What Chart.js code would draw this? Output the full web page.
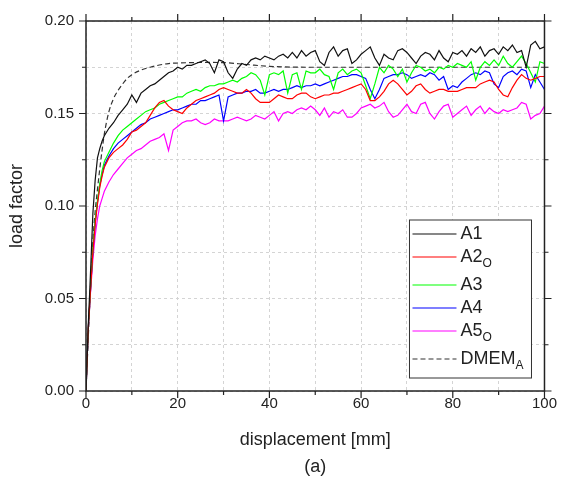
<!DOCTYPE html>
<html>
<head>
<meta charset="utf-8">
<script src="https://cdn.jsdelivr.net/npm/chart.js@4.4.1/dist/chart.umd.min.js"></script>
<style>
  body { margin: 0; background: #fff; }
</style>
</head>
<body>
<canvas id="myChart" width="561" height="486"></canvas>
<script>
// displacement [mm], shared by the five test curves
const disp = [0, 0.5, 1, 1.5, 2, 2.5, 3, 3.5, 4,
  5, 6, 7, 8, 9, 10, 11, 12, 13, 14,
  15, 16, 17, 18, 19, 20, 21, 22, 23, 24,
  25, 26, 27, 28, 29, 30, 31, 32, 33, 34,
  35, 36, 37, 38, 39, 40, 41, 42, 43, 44,
  45, 46, 47, 48, 49, 50, 51, 52, 53, 54,
  55, 56, 57, 58, 59, 60, 61, 62, 63, 64,
  65, 66, 67, 68, 69, 70, 71, 72, 73, 74,
  75, 76, 77, 78, 79, 80, 81, 82, 83, 84,
  85, 86, 87, 88, 89, 90, 91, 92, 93, 94,
  95, 96, 97, 98, 99, 100];

const a1 = [0, 0.036, 0.065, 0.096, 0.114, 0.126, 0.131, 0.135, 0.138,
  0.142, 0.145, 0.149, 0.152, 0.155, 0.160, 0.156, 0.161, 0.163, 0.165,
  0.166, 0.168, 0.170, 0.172, 0.173, 0.175, 0.174, 0.176, 0.176, 0.177,
  0.178, 0.179, 0.177, 0.172, 0.179, 0.178, 0.172, 0.169, 0.174, 0.177,
  0.176, 0.179, 0.180, 0.179, 0.181, 0.180, 0.179, 0.181, 0.182, 0.180,
  0.183, 0.180, 0.184, 0.181, 0.183, 0.184, 0.178, 0.176, 0.183, 0.186,
  0.181, 0.184, 0.185, 0.177, 0.179, 0.182, 0.184, 0.186, 0.180, 0.176,
  0.182, 0.180, 0.179, 0.184, 0.185, 0.183, 0.180, 0.177, 0.181, 0.183,
  0.182, 0.179, 0.184, 0.180, 0.178, 0.183, 0.182, 0.184, 0.181, 0.185,
  0.183, 0.186, 0.181, 0.184, 0.185, 0.182, 0.186, 0.184, 0.187, 0.183,
  0.184, 0.175, 0.187, 0.189, 0.185, 0.186];

const a2 = [0, 0.034, 0.055, 0.075, 0.090, 0.101, 0.110, 0.116, 0.121,
  0.126, 0.129, 0.131, 0.133, 0.136, 0.140, 0.141, 0.143, 0.145, 0.149,
  0.153, 0.156, 0.157, 0.154, 0.152, 0.151, 0.150, 0.153, 0.155, 0.157,
  0.158, 0.159, 0.160, 0.161, 0.163, 0.164, 0.163, 0.162, 0.161, 0.161,
  0.163, 0.161, 0.158, 0.156, 0.156, 0.156, 0.158, 0.160, 0.159, 0.158,
  0.158, 0.160, 0.161, 0.161, 0.159, 0.158, 0.159, 0.160, 0.160, 0.161,
  0.161, 0.162, 0.163, 0.164, 0.165, 0.166, 0.163, 0.157, 0.157, 0.159,
  0.162, 0.166, 0.168, 0.166, 0.163, 0.160, 0.162, 0.165, 0.166, 0.163,
  0.161, 0.162, 0.163, 0.163, 0.162, 0.162, 0.162, 0.163, 0.164, 0.164,
  0.164, 0.166, 0.167, 0.168, 0.167, 0.163, 0.160, 0.159, 0.164, 0.168,
  0.171, 0.169, 0.168, 0.169, 0.170, 0.170];

const a3 = [0, 0.034, 0.056, 0.077, 0.092, 0.103, 0.112, 0.119, 0.124,
  0.129, 0.134, 0.138, 0.141, 0.143, 0.145, 0.147, 0.149, 0.151, 0.152,
  0.153, 0.155, 0.156, 0.157, 0.158, 0.159, 0.159, 0.161, 0.162, 0.163,
  0.162, 0.164, 0.165, 0.165, 0.166, 0.166, 0.167, 0.168, 0.167, 0.169,
  0.170, 0.172, 0.171, 0.168, 0.160, 0.171, 0.172, 0.171, 0.173, 0.161,
  0.171, 0.172, 0.163, 0.173, 0.172, 0.172, 0.174, 0.171, 0.170, 0.163,
  0.172, 0.174, 0.171, 0.173, 0.174, 0.172, 0.165, 0.158, 0.166, 0.175,
  0.172, 0.176, 0.174, 0.170, 0.174, 0.167, 0.172, 0.176, 0.175, 0.173,
  0.174, 0.172, 0.175, 0.174, 0.176, 0.175, 0.177, 0.176, 0.175, 0.178,
  0.168, 0.175, 0.178, 0.176, 0.179, 0.176, 0.181, 0.177, 0.175, 0.178,
  0.181, 0.177, 0.172, 0.167, 0.178, 0.177];

const a4 = [0, 0.034, 0.055, 0.076, 0.091, 0.102, 0.111, 0.117, 0.122,
  0.127, 0.131, 0.134, 0.136, 0.138, 0.140, 0.142, 0.144, 0.145, 0.147,
  0.148, 0.149, 0.150, 0.151, 0.152, 0.152, 0.153, 0.154, 0.155, 0.155,
  0.157, 0.157, 0.158, 0.159, 0.160, 0.146, 0.159, 0.160, 0.161, 0.161,
  0.162, 0.162, 0.163, 0.161, 0.161, 0.162, 0.163, 0.162, 0.163, 0.163,
  0.164, 0.165, 0.164, 0.165, 0.165, 0.166, 0.165, 0.166, 0.167, 0.168,
  0.169, 0.170, 0.170, 0.171, 0.171, 0.170, 0.169, 0.163, 0.158, 0.163,
  0.169, 0.170, 0.171, 0.171, 0.172, 0.171, 0.169, 0.170, 0.171, 0.170,
  0.172, 0.171, 0.168, 0.170, 0.163, 0.165, 0.164, 0.167, 0.169, 0.171,
  0.172, 0.171, 0.173, 0.172, 0.166, 0.164, 0.170, 0.172, 0.173, 0.171,
  0.174, 0.173, 0.164, 0.171, 0.167, 0.163];

const a5 = [0, 0.034, 0.054, 0.071, 0.084, 0.093, 0.100, 0.104, 0.108,
  0.113, 0.117, 0.120, 0.123, 0.126, 0.128, 0.130, 0.131, 0.133, 0.135,
  0.136, 0.137, 0.139, 0.130, 0.141, 0.143, 0.145, 0.146, 0.146, 0.147,
  0.145, 0.144, 0.145, 0.147, 0.146, 0.146, 0.146, 0.147, 0.148, 0.147,
  0.146, 0.147, 0.149, 0.148, 0.147, 0.149, 0.151, 0.146, 0.150, 0.151,
  0.150, 0.152, 0.153, 0.152, 0.154, 0.152, 0.149, 0.153, 0.148, 0.151,
  0.150, 0.152, 0.148, 0.148, 0.150, 0.153, 0.154, 0.155, 0.153, 0.154,
  0.156, 0.151, 0.148, 0.149, 0.152, 0.155, 0.151, 0.150, 0.155, 0.156,
  0.150, 0.147, 0.151, 0.154, 0.155, 0.148, 0.150, 0.152, 0.154, 0.149,
  0.152, 0.154, 0.150, 0.153, 0.151, 0.150, 0.152, 0.151, 0.152, 0.153,
  0.156, 0.155, 0.147, 0.149, 0.150, 0.154];

// smooth model curve
const dmemX = [0, 0.5, 1, 1.5, 2, 2.5, 3, 3.5, 4, 5, 6, 7, 8, 9, 10, 12, 14, 16, 18, 20,
  23, 26, 30, 35, 40, 50, 60, 70, 80, 90, 100];
const dmemY = [0, 0.029, 0.057, 0.081, 0.097, 0.109, 0.120, 0.130, 0.139, 0.151, 0.158,
  0.1625, 0.166, 0.169, 0.171, 0.1735, 0.175, 0.1762, 0.177, 0.1773,
  0.1775, 0.1776, 0.1775, 0.1765, 0.1755, 0.175, 0.175, 0.175, 0.175, 0.175, 0.175];

const names = ['A1', 'A2', 'A3', 'A4', 'A5', 'DMEM'];
const subs = ['', 'O', '', '', 'O', 'A'];
const colors = ['#111111', '#ff0000', '#00ff00', '#0000ff', '#ff00ff', '#333333'];

function pts(xs, ys) {
  return xs.map((x, i) => ({ x: x, y: ys[i] }));
}

const series = [a1, a2, a3, a4, a5];
const datasets = series.map((s, i) => ({
  label: names[i] + subs[i],
  data: pts(disp, s),
  borderColor: colors[i],
  borderWidth: 1.2,
  pointRadius: 0,
  tension: 0,
  fill: false
}));
datasets.push({
  label: 'DMEMA',
  data: pts(dmemX, dmemY),
  borderColor: colors[5],
  borderWidth: 1.2,
  borderDash: [5, 3],
  pointRadius: 0,
  cubicInterpolationMode: 'monotone',
  fill: false
});

// frame, mirrored ticks and legend with subscripts
const framePlugin = {
  id: 'frame',
  afterDatasetsDraw(chart) {
    const { ctx, chartArea: a, scales: { x, y } } = chart;
    ctx.save();
    ctx.strokeStyle = '#222';
    ctx.lineWidth = 1.5;
    ctx.strokeRect(a.left, a.top, a.right - a.left, a.bottom - a.top);

    ctx.lineWidth = 1.2;
    ctx.beginPath();
    for (let v = 0; v <= 100; v += 10) {
      const px = x.getPixelForValue(v);
      const len = v % 20 === 0 ? 7 : 4;
      ctx.moveTo(px, a.bottom); ctx.lineTo(px, a.bottom + len);
      ctx.moveTo(px, a.top); ctx.lineTo(px, a.top - len);
    }
    for (let k = 0; k <= 8; k++) {
      const py = y.getPixelForValue(k * 0.025);
      const len = k % 2 === 0 ? 7 : 4;
      ctx.moveTo(a.left, py); ctx.lineTo(a.left - len, py);
      ctx.moveTo(a.right, py); ctx.lineTo(a.right + len, py);
    }
    ctx.stroke();

    // legend box
    const bx = a.right - 135, by = a.top + 199, bw = 122, bh = 158;
    ctx.fillStyle = '#fff';
    ctx.fillRect(bx, by, bw, bh);
    ctx.lineWidth = 1;
    ctx.strokeStyle = '#333';
    ctx.strokeRect(bx, by, bw, bh);

    let ry = by + 14;
    for (let i = 0; i < names.length; i++) {
      ctx.beginPath();
      ctx.strokeStyle = colors[i];
      ctx.lineWidth = 1.2;
      ctx.setLineDash(i === 5 ? [5, 3] : []);
      ctx.moveTo(bx + 3, ry);
      ctx.lineTo(bx + 47, ry);
      ctx.stroke();
      ctx.setLineDash([]);

      ctx.fillStyle = '#222';
      ctx.textBaseline = 'middle';
      ctx.font = '18px "Liberation Sans", Arial, sans-serif';
      ctx.fillText(names[i], bx + 51, ry);
      if (subs[i]) {
        const w = ctx.measureText(names[i]).width;
        ctx.font = '12px "Liberation Sans", Arial, sans-serif';
        ctx.fillText(subs[i], bx + 51 + w, ry + 7);
      }
      ry += subs[i] ? 28 : 23;
    }
    ctx.restore();
  }
};

Chart.defaults.font.family = '"Liberation Sans", Arial, sans-serif';
Chart.defaults.color = '#222';

const ctx = document.getElementById('myChart').getContext('2d');
const chart = new Chart(ctx, {
  type: 'line',
  data: { datasets: datasets },
  options: {
    responsive: false,
    animation: false,
    layout: { padding: { left: 0, right: 14, top: 18, bottom: 0 } },
    plugins: {
      legend: { display: false },
      tooltip: { enabled: false }
    },
    scales: {
      x: {
        type: 'linear',
        min: 0,
        max: 100,
        afterFit: (s) => { s.height = 95; },
        ticks: {
          stepSize: 10,
          padding: 4,
          maxRotation: 0,
          autoSkip: false,
          font: { size: 15 },
          callback: (v) => (v % 20 === 0 ? v : '')
        },
        grid: { color: '#d4d4d4', drawTicks: false, lineWidth: 1 },
        border: { display: false, dash: [3, 3] },
        title: {
          display: true,
          text: ['displacement [mm]', '(a)'],
          font: { size: 18, lineHeight: 1.5 },
          padding: { top: 0, bottom: 5 }
        }
      },
      y: {
        min: 0,
        max: 0.2,
        afterFit: (s) => { s.width = 86; },
        ticks: {
          stepSize: 0.025,
          padding: 12,
          autoSkip: false,
          font: { size: 15 },
          callback: (v) => (Math.round(v * 1000) % 50 === 0 ? v.toFixed(2) : '')
        },
        grid: { color: '#d4d4d4', drawTicks: false, lineWidth: 1 },
        border: { display: false, dash: [3, 3] },
        title: {
          display: true,
          text: 'load factor',
          font: { size: 18 },
          padding: { top: 6, bottom: 0 }
        }
      }
    }
  },
  plugins: [framePlugin]
});
</script>
</body>
</html>
